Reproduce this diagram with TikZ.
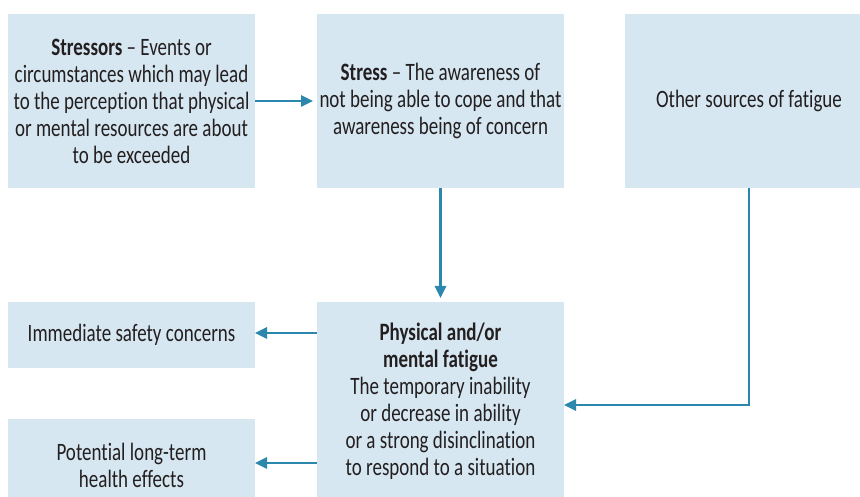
\documentclass[tikz,border=0pt]{standalone}
\usepackage{fontspec}
\setmainfont[FakeStretch=0.76,Ligatures={NoCommon}]{Carlito}
\usetikzlibrary{arrows.meta}
\definecolor{boxblue}{HTML}{D6E7F1}
\definecolor{arrowblue}{HTML}{2B87AB}
\definecolor{txt}{HTML}{231F20}
\tikzset{
  box/.style={fill=boxblue, draw=none, inner sep=0pt, outer sep=0pt, align=center,
    text=txt, font=\fontsize{25}{27}\selectfont},
  conn/.style={draw=arrowblue, line width=2.6pt, -{Triangle[length=12pt,width=11pt]}},
}
\begin{document}
\begin{tikzpicture}[x=1pt,y=-1pt]
\useasboundingbox (0,0) rectangle (860,497);
\node[box, minimum width=247pt, minimum height=174pt] (stressors) at (131.5,101)
  {\textbf{Stressors} – Events or\\circumstances which may lead\\to the perception that physical\\or mental resources are about\\to be exceeded};
\node[box, minimum width=247pt, minimum height=174pt] (stress) at (440.5,101)
  {\textbf{Stress} – The awareness of\\not being able to cope and that\\awareness being of concern};
\node[box, minimum width=248pt, minimum height=174pt] (other) at (749,101)
  {Other sources of fatigue};
\node[box, minimum width=247pt, minimum height=66pt] (immediate) at (131.5,335)
  {Immediate safety concerns};
\node[box, minimum width=247pt, minimum height=92pt] (potential) at (131.5,465)
  {Potential long-term\\health effects};
\node[box, minimum width=247pt, minimum height=198pt] (physical) at (440.5,401)
  {\textbf{Physical and/or}\\\textbf{mental fatigue}\\The temporary inability\\or decrease in ability\\or a strong disinclination\\to respond to a situation};
\coordinate (bend) at (749,405);
\coordinate (ya) at (0,333);
\coordinate (yb) at (0,463);
\draw[conn, shorten >=4pt] (stressors.east) -- (stress.west);
\draw[conn, shorten >=4pt] (stress.south) -- (physical.north);
\draw[conn] (other.south) -- (bend) -- (physical.east |- bend);
\draw[conn] (physical.west |- ya) -- (immediate.east |- ya);
\draw[conn] (physical.west |- yb) -- (potential.east |- yb);
\end{tikzpicture}
\end{document}
